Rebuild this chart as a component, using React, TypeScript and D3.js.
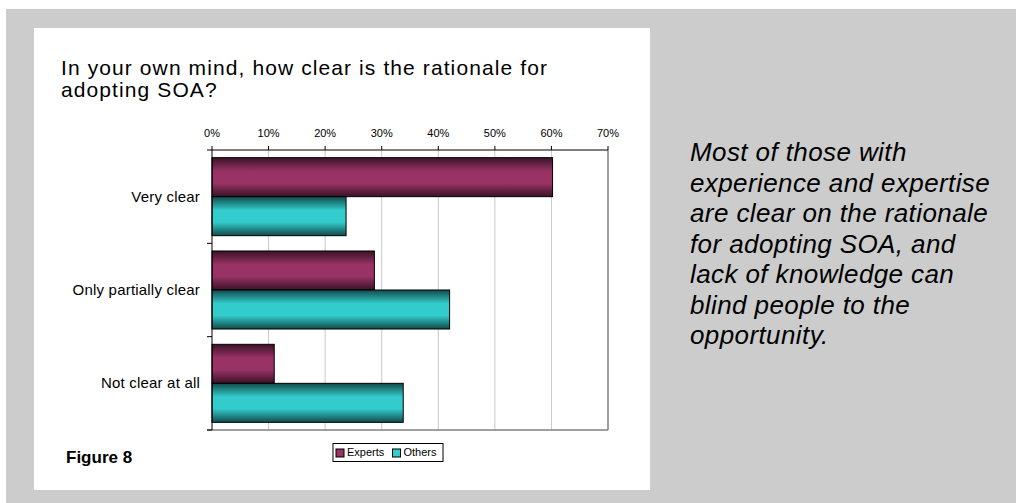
import React from "react";
import * as d3 from "d3";

const categories = ["Very clear", "Only partially clear", "Not clear at all"];
const seriesNames = ["Experts", "Others"];
const expertsValues = [0.602, 0.287, 0.11];
const othersValues = [0.237, 0.42, 0.338];
const xTicks = [0, 0.1, 0.2, 0.3, 0.4, 0.5, 0.6, 0.7];
const titleLines = ["In your own mind, how clear is the rationale for", "adopting SOA?"];
const noteLines = [
  "Most of those with",
  "experience and expertise",
  "are clear on the rationale",
  "for adopting SOA, and",
  "lack of knowledge can",
  "blind people to the",
  "opportunity.",
];
const figureLabel = "Figure 8";

const W = 1016;
const H = 503;
const FONT = "Arial, 'Liberation Sans', sans-serif";

export default function App() {
  const x = d3.scaleLinear().domain([0, 0.7]).range([212, 608]);
  const y = d3.scaleBand<string>().domain(categories).range([150, 430]).paddingInner(0.164).paddingOuter(0.082);
  const ys = d3.scaleBand<string>().domain(seriesNames).range([0, y.bandwidth()]);
  const values: Record<string, number[]> = { Experts: expertsValues, Others: othersValues };
  const fills: Record<string, string> = { Experts: "url(#gExp)", Others: "url(#gOth)" };
  const swatch: Record<string, string> = { Experts: "#993366", Others: "#33cccc" };
  const [y0, y1] = y.range();
  const step = y.step();
  const catTicks = d3.range(categories.length + 1).map((i) => y0 + i * step);

  return (
    <svg width={W} height={H} style={{ position: "absolute", left: 0, top: 0 }} fontFamily={FONT}>
      <defs>
        <linearGradient id="gExp" x1="0" y1="0" x2="0" y2="1">
          <stop offset="0" stopColor="#3a1226" />
          <stop offset="0.35" stopColor="#993366" />
          <stop offset="0.65" stopColor="#993366" />
          <stop offset="1" stopColor="#3a1226" />
        </linearGradient>
        <linearGradient id="gOth" x1="0" y1="0" x2="0" y2="1">
          <stop offset="0" stopColor="#124a4a" />
          <stop offset="0.35" stopColor="#33cccc" />
          <stop offset="0.65" stopColor="#33cccc" />
          <stop offset="1" stopColor="#124a4a" />
        </linearGradient>
      </defs>
      <rect x={0} y={0} width={W} height={H} fill="#ffffff" />
      <rect x={6} y={9} width={W - 6} height={H - 9} fill="#cccccc" />
      <rect x={34} y={28} width={616} height={462} fill="#ffffff" />

      {titleLines.map((t, i) => (
        <text key={i} x={61} y={75 + i * 22} fontSize={21} letterSpacing={1.1} fill="#000">
          {t}
        </text>
      ))}

      {/* gridlines */}
      {xTicks.slice(1, -1).map((t) => (
        <line key={t} x1={x(t)} x2={x(t)} y1={y0} y2={y1} stroke="#c8c8c8" strokeWidth={1} />
      ))}
      {/* plot borders */}
      <line x1={x(0.7)} x2={x(0.7)} y1={y0} y2={y1} stroke="#808080" strokeWidth={1.5} />
      <line x1={x(0) - 5} x2={x(0.7)} y1={y1} y2={y1} stroke="#808080" strokeWidth={1.5} />

      {/* bars */}
      {categories.map((c, ci) =>
        seriesNames.map((s) => (
          <rect
            key={c + s}
            x={x(0)}
            y={(y(c) as number) + (ys(s) as number)}
            width={x(values[s][ci]) - x(0)}
            height={ys.bandwidth()}
            fill={fills[s]}
            stroke="#000"
            strokeWidth={1}
          />
        ))
      )}

      {/* top axis */}
      <line x1={x(0)} x2={x(0.7)} y1={y0} y2={y0} stroke="#000" strokeWidth={1} />
      {xTicks.map((t) => (
        <g key={t}>
          <line x1={x(t)} x2={x(t)} y1={y0 - 4} y2={y0} stroke="#000" strokeWidth={1} />
          <text x={x(t)} y={y0 - 13} fontSize={11} textAnchor="middle" fill="#000">
            {d3.format(".0%")(t)}
          </text>
        </g>
      ))}

      {/* left axis */}
      <line x1={x(0)} x2={x(0)} y1={y0} y2={y1} stroke="#000" strokeWidth={1} />
      {catTicks.map((t, i) => (
        <line key={i} x1={x(0) - 5} x2={x(0)} y1={t} y2={t} stroke="#000" strokeWidth={1} />
      ))}
      {categories.map((c) => (
        <text
          key={c}
          x={200}
          y={(y(c) as number) + y.bandwidth() / 2 + 1}
          fontSize={15}
          letterSpacing={0.2}
          textAnchor="end"
          dominantBaseline="middle"
          fill="#000"
        >
          {c}
        </text>
      ))}

      {/* legend */}
      <rect x={333} y={443.5} width={110} height={18} fill="#fff" stroke="#000" strokeWidth={1} />
      {seriesNames.map((s, i) => {
        const lx = 336 + i * 56.5;
        return (
          <g key={s}>
            <rect x={lx} y={449} width={8} height={8} fill={swatch[s]} stroke="#000" strokeWidth={1} />
            <text x={lx + 11} y={453} fontSize={11} dominantBaseline="middle" fill="#000">
              {s}
            </text>
          </g>
        );
      })}

      <text x={66} y={463} fontSize={17} fontWeight="bold" fill="#000">
        {figureLabel}
      </text>

      {noteLines.map((t, i) => (
        <text key={i} x={690} y={161 + i * 30.5} fontSize={26} letterSpacing={0.4} fontStyle="italic" fill="#000">
          {t}
        </text>
      ))}
    </svg>
  );
}
